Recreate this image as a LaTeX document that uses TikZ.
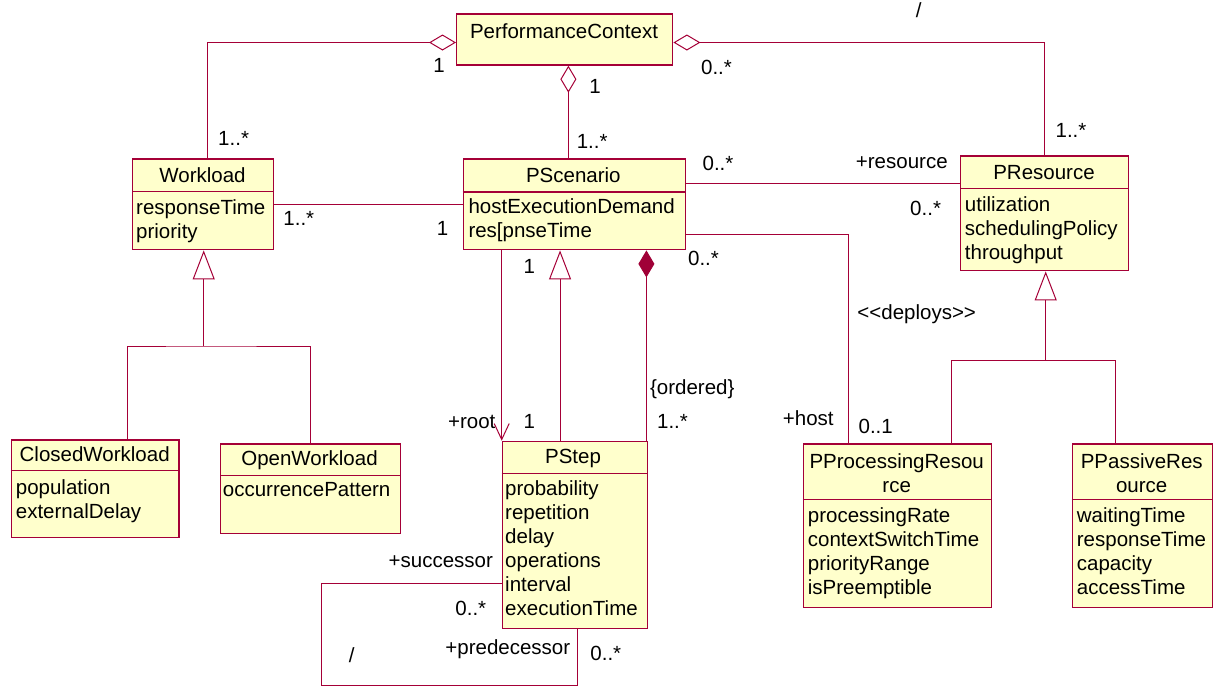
\documentclass[tikz,border=0pt]{standalone}
\usepackage{fontspec}
\setmainfont{Liberation Sans}
\usetikzlibrary{arrows.meta}
\definecolor{umlline}{RGB}{165,0,55}
\definecolor{umlfill}{RGB}{255,255,204}
\definecolor{umldark}{RGB}{160,0,55}

\begin{document}
\begin{tikzpicture}[x=1pt, y=-1pt,
		font=\fontsize{20.5}{24}\selectfont,
		cls/.style={draw=umlline, fill=umlfill, line width=1.4pt, anchor=north west, inner sep=0pt},
		cmpline/.style={draw=umlline, line width=1.2pt},
		clsname/.style={align=center, inner sep=0pt},
		attr/.style={anchor=north west, align=left, inner sep=0pt},
		lbl/.style={inner sep=0pt},
		assoc/.style={draw=umlline, line width=1pt},
		agg/.style={assoc, {Diamond[open, length=27pt, width=16pt]}-},
		comp/.style={assoc, {Diamond[length=27pt, width=16pt, color=umldark]}-},
		gen/.style={assoc, -{Triangle[open, length=29pt, width=22pt]}},
		nav/.style={assoc, -{Straight Barb[length=16pt, width=15pt]}}]
		\useasboundingbox (0,0) rectangle (1213,686);

		\node[cls, minimum width=216pt, minimum height=51pt] (pc) at (456,13.3) {};
		\node[clsname] (pc-name) at (564,31) {PerformanceContext};

		\node[cls, minimum width=141pt, minimum height=90.7pt] (wl) at (132,158.3) {};
		\draw[cmpline] ([yshift=-33.4pt]wl.north west) -- ([yshift=-33.4pt]wl.north east);
		\node[clsname] (wl-name) at (202.5,174.7) {Workload};
		\node[attr] (wl-attr) at (136,199) {responseTime\\priority};

		\node[cls, minimum width=222.3pt, minimum height=90.7pt] (ps) at (462.7,158.3) {};
		\draw[cmpline] ([yshift=-33.7pt]ps.north west) -- ([yshift=-33.7pt]ps.north east);
		\node[clsname] (ps-name) at (573.3,175) {PScenario};
		\node[attr] (ps-attr) at (468.3,198) {hostExecutionDemand\\res[pnseTime};

		\node[cls, minimum width=168pt, minimum height=114.7pt] (pr) at (960,155.3) {};
		\draw[cmpline] ([yshift=-33.4pt]pr.north west) -- ([yshift=-33.4pt]pr.north east);
		\node[clsname] (pr-name) at (1044,172.7) {PResource};
		\node[attr] (pr-attr) at (964.7,196) {utilization\\schedulingPolicy\\throughput};

		\node[cls, minimum width=167.6pt, minimum height=97.4pt] (cw) at (10.7,439.3) {};
		\draw[cmpline] ([yshift=-31.4pt]cw.north west) -- ([yshift=-31.4pt]cw.north east);
		\node[clsname] (cw-name) at (94.7,454) {ClosedWorkload};
		\node[attr] (cw-attr) at (15.7,479) {population\\externalDelay};

		\node[cls, minimum width=180pt, minimum height=89.4pt] (ow) at (220,443.3) {};
		\draw[cmpline] ([yshift=-32pt]ow.north west) -- ([yshift=-32pt]ow.north east);
		\node[clsname] (ow-name) at (309.5,460) {OpenWorkload};
		\node[attr] (ow-attr) at (222.7,482) {occurrencePattern};

		\node[cls, minimum width=145pt, minimum height=187pt] (st) at (501.7,440.7) {};
		\draw[cmpline] ([yshift=-32.6pt]st.north west) -- ([yshift=-32.6pt]st.north east);
		\node[clsname] (st-name) at (573,458) {PStep};
		\node[attr] (st-attr) at (505,480) {probability\\repetition\\delay\\operations\\interval\\executionTime};

		\node[cls, minimum width=188pt, minimum height=163.4pt] (ppr) at (802.7,443.3) {};
		\draw[cmpline] ([yshift=-56pt]ppr.north west) -- ([yshift=-56pt]ppr.north east);
		\node[clsname] (ppr-name) at (896.7,473) {PProcessingResou\\rce};
		\node[attr] (ppr-attr) at (807.7,507) {processingRate\\contextSwitchTime\\priorityRange\\isPreemptible};

		\node[cls, minimum width=140pt, minimum height=163.4pt] (ppa) at (1071.7,443.3) {};
		\draw[cmpline] ([yshift=-56pt]ppa.north west) -- ([yshift=-56pt]ppa.north east);
		\node[clsname] (ppa-name) at (1141.7,473) {PPassiveRes\\ource};
		\node[attr] (ppa-attr) at (1076.7,507) {waitingTime\\responseTime\\capacity\\accessTime};

		\coordinate (pc-left) at ([yshift=-3pt]pc.west);
		\coordinate (pc-right) at ([yshift=-3pt]pc.east);
		\coordinate (pc-down) at ([xshift=3.7pt]pc.south);
		\coordinate (wl-up) at ([xshift=4.2pt]wl.north);
		\draw[agg] (pc-left) -| (wl-up);
		\draw[agg] (pc-down) -- (pc-down |- ps.north);
		\draw[agg] (pc-right) -| (pr.north);

		\draw[assoc] (wl.east) -- (ps.west);

		\coordinate (ps-res) at ([yshift=-24.7pt]ps.north east);
		\coordinate (ps-host) at ([yshift=-75.7pt]ps.north east);
		\coordinate (ppr-host) at ([xshift=-49pt]ppr.north);
		\draw[assoc] (ps-res) -- (ps-res -| pr.west);
		\draw[assoc] (ps-host) -| (ppr-host);

		\coordinate (ps-root) at ([xshift=39pt]ps.south west);
		\coordinate (ps-gen) at ([xshift=-14.5pt]ps.south);
		\coordinate (ps-comp) at ([xshift=-40pt]ps.south east);
		\draw[nav] (ps-root) -- (ps-root |- st.north);
		\draw[gen] (ps-gen |- st.north) -- (ps-gen);
		\draw[comp] (ps-comp) -- (ps-comp |- st.north);

		\coordinate (wl-fork) at (203.7,346);
		\draw[gen] (wl-fork) -- (wl-fork |- wl.south);
		\draw[assoc] ([xshift=32.2pt]cw.north) |- (wl-fork) -| (ow.north);

		\coordinate (pr-fork) at (1045.7,360.7);
		\draw[gen] (pr-fork) -- (pr-fork |- pr.south);
		\draw[assoc] ([xshift=54pt]ppr.north) |- (pr-fork) -| ([xshift=-27.4pt]ppa.north);

		\draw[assoc] ([yshift=-142.6pt]st.north west) -- ++(-180,0) -- ++(0,101.7) -| ([xshift=3pt]st.south);

		\node[lbl] (pc-wl-m1) at (439,65) {1};
		\node[lbl] (pc-wl-m2) at (233.6,138) {1..*};
		\node[lbl] (pc-ps-m1) at (595,86) {1};
		\node[lbl] (pc-ps-m2) at (592.2,141.7) {1..*};
		\node[lbl] (pc-pr-m1) at (716.5,67) {0..*};
		\node[lbl] (pc-pr-m2) at (1071,130) {1..*};
		\node[lbl] (pc-pr-slash) at (918.6,10) {/};

		\node[lbl] (wl-ps-m1) at (298.8,218.3) {1..*};
		\node[lbl] (wl-ps-m2) at (442.6,228.3) {1};

		\node[lbl] (ps-pr-m1) at (718,163) {0..*};
		\node[lbl] (ps-pr-role) at (901.8,163) {+resource};
		\node[lbl] (ps-pr-m2) at (925.6,208) {0..*};

		\node[lbl] (ps-ppr-m1) at (703.5,258) {0..*};
		\node[lbl] (ps-ppr-st) at (916.7,314) {<\kern0pt<deploys>\kern0pt>};
		\node[lbl] (ps-ppr-role) at (808.3,418.3) {+host};
		\node[lbl] (ps-ppr-m2) at (875.7,426) {0..1};

		\node[lbl] (ps-st-role) at (471.7,421.7) {+root};
		\node[lbl] (ps-st-m1) at (529.3,266.7) {1};
		\node[lbl] (ps-st-m2) at (529.3,421.7) {1};
		\node[lbl] (ps-st-ord) at (692.3,389) {\{ordered\}};
		\node[lbl] (ps-st-m3) at (672.5,421.7) {1..*};

		\node[lbl] (st-succ) at (440.8,562) {+successor};
		\node[lbl] (st-succ-m) at (470.8,608) {0..*};
		\node[lbl] (st-pred) at (507.8,649) {+predecessor};
		\node[lbl] (st-pred-m) at (605.8,653) {0..*};
		\node[lbl] (st-slash) at (351.7,655) {/};
\end{tikzpicture}
\end{document}
